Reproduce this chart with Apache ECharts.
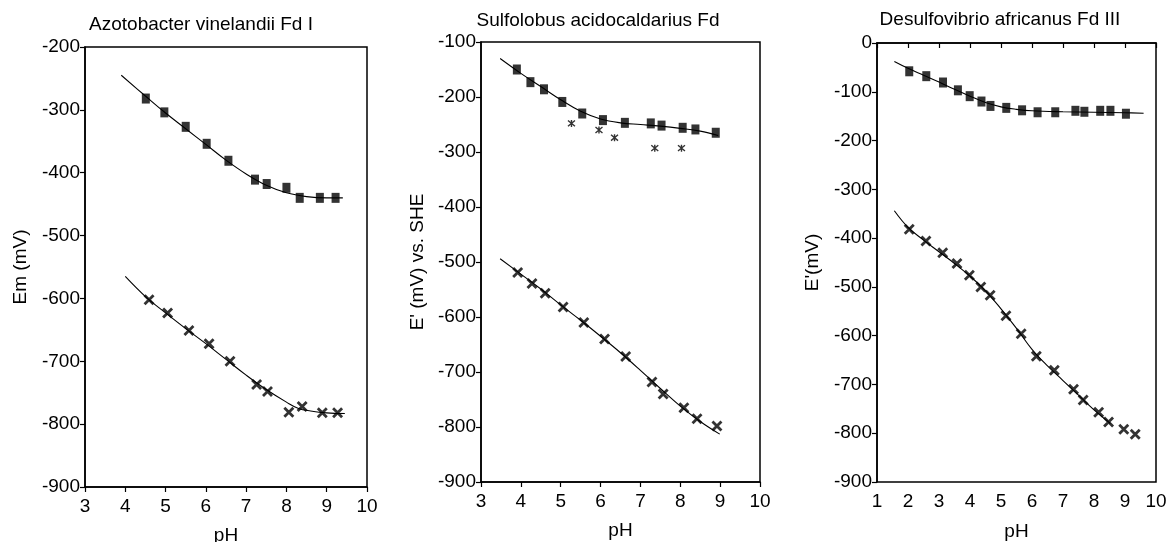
<!DOCTYPE html>
<html>
<head>
<meta charset="utf-8">
<script src="https://cdn.jsdelivr.net/npm/echarts@6/dist/echarts.min.js"></script>
<style>
	html, body { margin: 0; padding: 0; background: #fff; }
	#chart { width: 1167px; height: 542px; }
</style>
</head>
<body>
<div id="chart"></div>
<script>
// values: [pH, mV]
const azoSquares = [[4.51, -282], [4.97, -304], [5.50, -327], [6.02, -354], [6.56, -381], [7.22, -411], [7.51, -418], [8.00, -424], [8.33, -440], [8.83, -440], [9.22, -440]]
const azoSquaresFit = [[3.9, -245], [4.5, -278], [5.0, -305], [5.5, -330], [6.0, -355], [6.5, -380], [7.0, -402], [7.5, -420], [8.0, -432], [8.5, -438], [9.0, -440], [9.4, -440]]
const azoCrosses = [[4.59, -602], [5.05, -623], [5.58, -651], [6.08, -672], [6.60, -700], [7.26, -737], [7.53, -748], [8.06, -781], [8.39, -772], [8.89, -782], [9.27, -782]]
const azoCrossesFit = [[4.0, -565], [4.5, -597], [5.0, -623], [5.5, -648], [6.0, -672], [6.5, -697], [7.0, -722], [7.5, -745], [8.0, -765], [8.3, -775], [8.6, -779], [9.0, -782], [9.45, -783]]

const sulSquares = [[3.90, -150], [4.24, -173], [4.58, -186], [5.04, -209], [5.54, -230], [6.06, -242], [6.61, -247], [7.26, -248], [7.53, -252], [8.06, -256], [8.38, -259], [8.89, -265]]
const sulSquaresFit = [[3.48, -130], [4.0, -157], [4.5, -181], [5.0, -205], [5.5, -226], [6.0, -240], [6.5, -247], [7.0, -250], [7.5, -253], [8.0, -257], [8.5, -262], [8.95, -270]]
const sulStars = [[5.27, -248], [5.96, -260], [6.35, -274], [7.36, -293], [8.03, -293]]
const sulCrosses = [[3.92, -519], [4.28, -539], [4.61, -557], [5.06, -582], [5.58, -610], [6.10, -640], [6.63, -672], [7.29, -718], [7.57, -740], [8.09, -765], [8.42, -785], [8.92, -798]]
const sulCrossesFit = [[3.48, -494], [4.0, -522], [4.5, -549], [5.0, -578], [5.5, -606], [6.0, -635], [6.5, -665], [7.0, -697], [7.5, -730], [8.0, -762], [8.5, -790], [8.99, -813]]

const desSquares = [[2.04, -58], [2.59, -68], [3.13, -81], [3.61, -97], [3.99, -109], [4.37, -120], [4.66, -129], [5.17, -133], [5.68, -138], [6.18, -142], [6.75, -142], [7.40, -139], [7.69, -141], [8.20, -139], [8.53, -139], [9.03, -145]]
const desSquaresFit = [[1.56, -38], [2.0, -52], [2.5, -66], [3.0, -80], [3.5, -95], [4.0, -109], [4.5, -122], [5.0, -131], [5.5, -136], [6.0, -139], [7.0, -141], [8.0, -142], [9.0, -143], [9.6, -144]]
const desCrosses = [[2.04, -382], [2.58, -406], [3.12, -430], [3.58, -452], [3.98, -476], [4.35, -500], [4.65, -517], [5.16, -559], [5.65, -596], [6.14, -642], [6.72, -671], [7.34, -710], [7.65, -732], [8.15, -757], [8.47, -777], [8.96, -792], [9.33, -802]]
const desCrossesFit = [[1.56, -344], [2.0, -378], [2.5, -404], [3.0, -428], [3.5, -452], [4.0, -478], [4.5, -508], [5.0, -545], [5.5, -585], [6.0, -628], [6.5, -662], [7.0, -692], [7.5, -722], [8.0, -752], [8.53, -780]]

const titles = ['Azotobacter vinelandii Fd I', 'Sulfolobus acidocaldarius Fd', 'Desulfovibrio africanus Fd III']
const yNames = ['Em (mV)', 'E\' (mV) vs. SHE', 'E\'(mV)']

const font = 'Liberation Sans, Arial, sans-serif'
const crossSymbol = 'path://M0,0 L10,10 M10,0 L0,10'
const starSymbol = 'path://M0,0 L10,10 M10,0 L0,10 M5,-1 L5,11'

const chart = echarts.init(document.getElementById('chart'))

function xAxisOf(i, min, gap) {
	return {
		gridIndex: i,
		type: 'value',
		min: min,
		max: 10,
		interval: 1,
		name: 'pH',
		nameLocation: 'middle',
		nameGap: gap,
		nameTextStyle: { color: '#000', fontSize: 19, fontFamily: font },
		axisLine: { lineStyle: { color: '#000', width: 1.5 } },
		axisTick: { length: 5, lineStyle: { color: '#000', width: 1.2 } },
		axisLabel: { color: '#000', fontSize: 19, fontFamily: font, margin: 10 },
		splitLine: { show: false }
	}
}

function yAxisOf(i, max, gap) {
	return {
		gridIndex: i,
		type: 'value',
		min: -900,
		max: max,
		interval: 100,
		name: yNames[i],
		nameLocation: 'middle',
		nameGap: gap,
		nameTextStyle: { color: '#000', fontSize: 19, fontFamily: font },
		axisLine: { lineStyle: { color: '#000', width: 1.5 } },
		axisTick: { length: 5, lineStyle: { color: '#000', width: 1.2 } },
		axisLabel: { color: '#000', fontSize: 19, fontFamily: font, margin: 5 },
		splitLine: { show: false }
	}
}

function fitLine(i, data) {
	return {
		type: 'line',
		xAxisIndex: i,
		yAxisIndex: i,
		data: data,
		smooth: 0.4,
		showSymbol: false,
		silent: true,
		lineStyle: { color: '#000', width: 1.1 },
		z: 2
	}
}

function squares(i, data) {
	return {
		type: 'scatter',
		xAxisIndex: i,
		yAxisIndex: i,
		data: data,
		symbol: 'rect',
		symbolSize: [8, 10],
		itemStyle: { color: '#000' },
		z: 3
	}
}

function crosses(i, data) {
	return {
		type: 'scatter',
		xAxisIndex: i,
		yAxisIndex: i,
		data: data,
		symbol: crossSymbol,
		symbolSize: 9,
		itemStyle: { color: 'none', borderColor: '#000', borderWidth: 2.8 },
		z: 3
	}
}

const titleStyle = { fontSize: 19, fontWeight: 'normal', color: '#000', fontFamily: font }
const frame = { show: true, borderColor: '#000', borderWidth: 1.5, outerBoundsMode: 'none', containLabel: false }

const option = {
	backgroundColor: '#fff',
	animation: false,
	title: [
		{ text: titles[0], left: 201, top: 15, padding: 0, textAlign: 'center', textStyle: titleStyle },
		{ text: titles[1], left: 598, top: 11, padding: 0, textAlign: 'center', textStyle: titleStyle },
		{ text: titles[2], left: 1000, top: 10, padding: 0, textAlign: 'center', textStyle: titleStyle }
	],
	grid: [
		Object.assign({ left: 85, top: 47, width: 282, height: 440 }, frame),
		Object.assign({ left: 481, top: 42, width: 279, height: 440 }, frame),
		Object.assign({ left: 877, top: 43, width: 279, height: 439 }, frame)
	],
	xAxis: [xAxisOf(0, 3, 39), xAxisOf(1, 3, 39), xAxisOf(2, 1, 40)],
	yAxis: [yAxisOf(0, -200, 55), yAxisOf(1, -100, 54), yAxisOf(2, 0, 55)],
	series: [
		fitLine(0, azoSquaresFit),
		squares(0, azoSquares),
		fitLine(0, azoCrossesFit),
		crosses(0, azoCrosses),

		fitLine(1, sulSquaresFit),
		squares(1, sulSquares),
		{
			type: 'scatter',
			xAxisIndex: 1,
			yAxisIndex: 1,
			data: sulStars,
			symbol: starSymbol,
			symbolSize: 7,
			itemStyle: { color: 'none', borderColor: '#000', borderWidth: 1.4 },
			z: 3
		},
		fitLine(1, sulCrossesFit),
		crosses(1, sulCrosses),

		fitLine(2, desSquaresFit),
		squares(2, desSquares),
		fitLine(2, desCrossesFit),
		crosses(2, desCrosses)
	]
}

chart.setOption(option)
</script>
</body>
</html>
